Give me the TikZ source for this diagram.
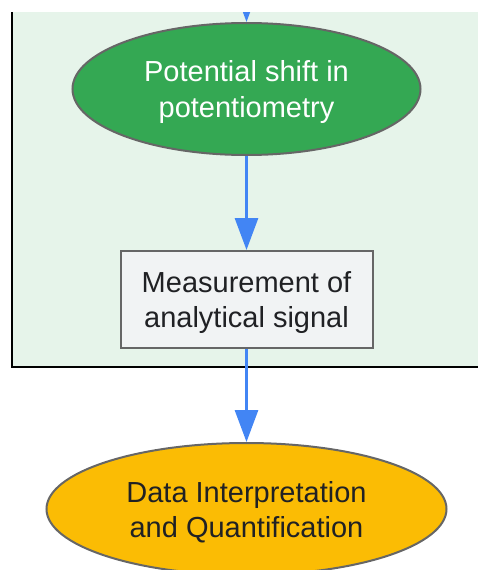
\documentclass[tikz,border=0pt]{standalone}
\usepackage{fontspec}
\setmainfont{Liberation Sans}
\usetikzlibrary{arrows.meta,shapes.geometric}
\definecolor{clusterbg}{HTML}{E6F4EA}
\definecolor{gnode}{HTML}{34A853}
\definecolor{ynode}{HTML}{FBBC04}
\definecolor{rnode}{HTML}{F1F3F4}
\definecolor{edgecol}{HTML}{4285F4}
\definecolor{bord}{HTML}{666666}
\definecolor{txt}{HTML}{202124}
\newcommand{\tstrut}{\rule{0pt}{27pt}}
\tikzset{
  basenode/.style={draw=bord, line width=2pt, align=center, inner sep=0pt,
    font=\fontsize{29}{35.5}\selectfont},
  ellnode/.style={basenode, ellipse},
  boxnode/.style={basenode, rectangle, fill=rnode, text=txt},
  flow/.style={draw=edgecol, line width=3pt,
    -{Triangle[length=32pt,width=23pt]}},
}
\begin{document}
\begin{tikzpicture}[x=1pt,y=-1pt]
\useasboundingbox (0,0) rectangle (478,570);
% cluster
\fill[clusterbg] (11,12) rectangle (490,368);
\draw[black, line width=2.5pt] (12,12) -- (12,367) -- (490,367);
% nodes
\node[ellnode, fill=gnode, text=white, minimum width=348pt, minimum height=132pt]
  (pot) at (246.5,89) {\tstrut Potential shift in\\potentiometry};
\node[boxnode, minimum width=252pt, minimum height=97pt]
  (meas) at (246.5,299.5) {\tstrut Measurement of\\analytical signal};
\node[ellnode, fill=ynode, text=txt, minimum width=400pt, minimum height=132pt]
  (data) at (246.5,509) {\tstrut Data Interpretation\\and Quantification};
\coordinate (in) at (246.5,-40);
% connectors
\begin{scope}
  \clip (0,12) rectangle (478,570);
  \draw[flow] (in) -- (pot.north);
\end{scope}
\draw[flow] (pot.south) -- (meas.north);
\draw[flow] (meas.south) -- (data.north);
\end{tikzpicture}
\end{document}
